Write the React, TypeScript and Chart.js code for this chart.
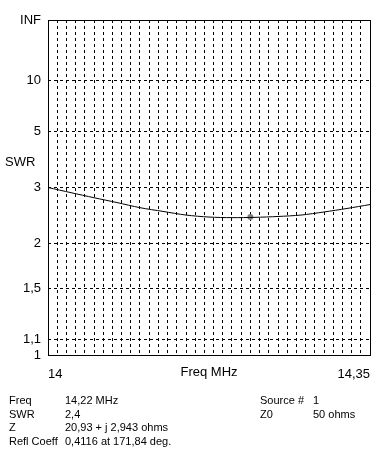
import React, { useEffect, useRef } from "react";
import { Chart, registerables } from "chart.js";

Chart.register(...registerables);

// Frequency sweep (MHz) and SWR
const freqs = [14.0, 14.025, 14.05, 14.075, 14.1, 14.125, 14.15, 14.175, 14.2, 14.225, 14.25, 14.275, 14.3, 14.325, 14.35];
const swrValues = [3.0, 2.88, 2.77, 2.67, 2.57, 2.5, 2.435, 2.4, 2.39, 2.395, 2.41, 2.435, 2.49, 2.555, 2.63];

// Marker
const markerFreq = [14.22];
const markerSwr = [2.4];

// Y axis ticks (SWR) and their labels
const yTickSwr = [1, 1.1, 1.5, 2, 3, 5, 10, Infinity];
const yTickLabels = ["1", "1,1", "1,5", "2", "3", "5", "10", "INF"];

// X axis
const xMin = 14.0;
const xMax = 14.35;
const xGridStep = 0.01;
const xLabelFirst = "14";
const xLabelLast = "14,35";

// Info block
const infoLeft = [
  ["Freq", "14,22 MHz"],
  ["SWR", "2,4"],
  ["Z", "20,93 + j 2,943 ohms"],
  ["Refl Coeff", "0,4116 at 171,84 deg."],
];
const infoRight = [
  ["Source #", "1"],
  ["Z0", "50 ohms"],
];

const rho = (s: number) => (s === Infinity ? 1 : (s - 1) / (s + 1));

const FONT = "'Liberation Sans', Arial, sans-serif";

export default function App() {
  const ref = useRef<HTMLCanvasElement | null>(null);

  useEffect(() => {
    document.body.style.margin = "0";
    const canvas = ref.current!;
    const framePlugin = {
      id: "frame",
      beforeDatasetsDraw(chart: any) {
        const { ctx, chartArea } = chart;
        ctx.save();
        ctx.strokeStyle = "#000";
        ctx.lineWidth = 1;
        ctx.setLineDash([]);
        const l = Math.round(chartArea.left) + 0.5;
        const t = Math.round(chartArea.top) + 0.5;
        const r = Math.round(chartArea.right) + 0.5;
        const b = Math.round(chartArea.bottom) + 0.5;
        ctx.strokeRect(l, t, r - l, b - t);
        ctx.restore();
      },
    };

    const chart = new Chart(canvas, {
      type: "line",
      data: {
        datasets: [
          {
            data: freqs.map((f, i) => ({ x: f, y: rho(swrValues[i]) })),
            borderColor: "#000",
            borderWidth: 1,
            pointRadius: 0,
            tension: 0.3,
            fill: false,
          },
          {
            data: markerFreq.map((f, i) => ({ x: f, y: rho(markerSwr[i]) })),
            showLine: false,
            pointRadius: 3,
            pointBackgroundColor: "#808080",
            pointBorderColor: "#808080",
            pointBorderWidth: 0,
          },
        ],
      },
      plugins: [framePlugin],
      options: {
        responsive: false,
        animation: false,
        events: [],
        layout: { padding: { left: 0, right: 21, top: 20, bottom: 0 } },
        plugins: { legend: { display: false }, tooltip: { enabled: false } },
        scales: {
          x: {
            type: "linear",
            min: xMin,
            max: xMax,
            afterBuildTicks: (scale: any) => {
              const n = Math.round((xMax - xMin) / xGridStep);
              const t = [];
              for (let i = 0; i <= n; i++) t.push({ value: +(xMin + i * xGridStep).toFixed(4) });
              scale.ticks = t;
            },
            afterFit: (scale: any) => {
              scale.height = 458 - 355;
            },
            grid: {
              color: (ctx: any) =>
                ctx.index === 0 || ctx.index === 35 ? "rgba(0,0,0,0)" : "#000",
              lineWidth: 1,
              drawTicks: false,
            },
            border: { display: false, dash: [3, 3] },
            ticks: {
              autoSkip: false,
              maxRotation: 0,
              align: "inner",
              padding: 12,
              color: "#000",
              font: { family: FONT, size: 13 },
              callback: (v: any, i: number, ticks: any[]) =>
                i === 0 ? xLabelFirst : i === ticks.length - 1 ? xLabelLast : "",
            },
          },
          y: {
            type: "linear",
            min: 0,
            max: 1,
            afterBuildTicks: (scale: any) => {
              scale.ticks = yTickSwr.map((s) => ({ value: rho(s) }));
            },
            afterFit: (scale: any) => {
              scale.width = 48;
            },
            grid: {
              color: (ctx: any) =>
                ctx.index === 0 || ctx.index === yTickSwr.length - 1 ? "rgba(0,0,0,0)" : "#000",
              lineWidth: 1,
              drawTicks: false,
            },
            border: { display: false, dash: [3, 3] },
            ticks: {
              autoSkip: false,
              padding: 7,
              color: "#000",
              font: { family: FONT, size: 13 },
              callback: (v: any, i: number) => yTickLabels[i],
            },
          },
        },
      },
    } as any);
    return () => chart.destroy();
  }, []);

  const textStyle: React.CSSProperties = {
    position: "absolute",
    fontFamily: FONT,
    color: "#000",
    whiteSpace: "nowrap",
  };

  return (
    <div style={{ position: "relative", width: 391, height: 458, background: "#fff", overflow: "hidden" }}>
      <canvas ref={ref} width={391} height={458} style={{ position: "absolute", left: 0, top: 0 }} />
      <div style={{ ...textStyle, left: 5, top: 154, fontSize: 13, lineHeight: "15px" }}>SWR</div>
      <div style={{ ...textStyle, left: 159, width: 100, textAlign: "center", top: 364, fontSize: 13, lineHeight: "15px" }}>
        Freq MHz
      </div>
      {infoLeft.map((row, i) => (
        <React.Fragment key={"l" + i}>
          <div style={{ ...textStyle, left: 9, top: 394 + i * 13.7, fontSize: 11, lineHeight: "13px" }}>{row[0]}</div>
          <div style={{ ...textStyle, left: 65, top: 394 + i * 13.7, fontSize: 11, lineHeight: "13px" }}>{row[1]}</div>
        </React.Fragment>
      ))}
      {infoRight.map((row, i) => (
        <React.Fragment key={"r" + i}>
          <div style={{ ...textStyle, left: 260, top: 394 + i * 13.7, fontSize: 11, lineHeight: "13px" }}>{row[0]}</div>
          <div style={{ ...textStyle, left: 313, top: 394 + i * 13.7, fontSize: 11, lineHeight: "13px" }}>{row[1]}</div>
        </React.Fragment>
      ))}
    </div>
  );
}
